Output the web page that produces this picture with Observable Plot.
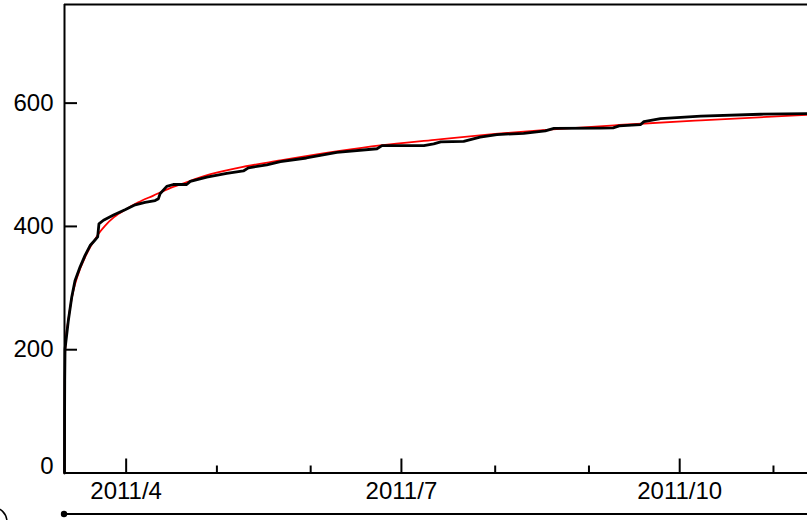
<!DOCTYPE html>
<html>
<head>
<meta charset="utf-8">
<script src="https://cdn.jsdelivr.net/npm/d3@7"></script>
<script src="https://cdn.jsdelivr.net/npm/@observablehq/plot@0.6"></script>
<style>
  html, body { margin: 0; padding: 0; background: #fff; overflow: hidden; }
  #wrap { position: relative; width: 807px; height: 520px; }
  #wrap > svg.deco { position: absolute; left: 0; top: 0; pointer-events: none; }
</style>
</head>
<body>
<div id="wrap"></div>
<script>
// Cumulative number of events since 2011-03-11 14:46 (observed, black)
const obsDates = [
  "2011-03-11T14:46", "2011-03-11T15:20", "2011-03-11T16:30", "2011-03-11T19:00",
  "2011-03-12T21:00", "2011-03-14T00:00", "2011-03-15T02:00", "2011-03-16T18:00",
  "2011-03-18T10:00", "2011-03-20T02:00", "2011-03-21T17:00", "2011-03-22T14:00",
  "2011-03-23T00:00", "2011-03-24T12:00", "2011-03-28T00:00", "2011-03-31T15:00",
  "2011-04-04T00:00", "2011-04-07T06:00", "2011-04-10T14:00", "2011-04-11T16:00",
  "2011-04-12T05:00", "2011-04-14T10:00", "2011-04-16T14:00", "2011-04-21T00:00",
  "2011-04-22T05:00", "2011-04-27T16:00", "2011-05-04T06:00", "2011-05-09T18:00",
  "2011-05-11T10:00", "2011-05-17T12:00", "2011-05-22T00:00", "2011-05-30T14:00",
  "2011-06-09T16:00", "2011-06-22T22:00", "2011-06-24T14:00", "2011-07-08T10:00",
  "2011-07-11T16:00", "2011-07-14T00:00", "2011-07-21T14:00", "2011-07-27T00:00",
  "2011-08-01T14:00", "2011-08-10T10:00", "2011-08-17T14:00", "2011-08-20T10:00",
  "2011-09-04T18:00", "2011-09-09T00:00", "2011-09-11T00:00", "2011-09-18T00:00",
  "2011-09-19T04:00", "2011-09-24T16:00", "2011-10-08T00:00", "2011-10-27T18:00",
  "2011-11-12T06:00"
];
const obsCounts = [
  0, 90, 150, 201,
  247, 285, 312, 334,
  353, 369, 378, 383,
  404, 410, 419, 427,
  435, 439, 442, 445,
  453, 465, 468, 468,
  473, 480, 486, 490,
  495, 500, 505, 511,
  520, 526, 531, 531,
  534, 537, 538, 545,
  549, 551, 555, 559,
  559.5, 560, 563, 565,
  570, 575, 579, 582,
  583
];

// Fitted decay curve (red)
const fitDates = [
  "2011-03-11T14:46", "2011-03-11T15:30", "2011-03-11T17:00", "2011-03-11T19:00",
  "2011-03-12T00:00", "2011-03-12T21:00", "2011-03-14T00:00", "2011-03-15T02:00",
  "2011-03-16T18:00", "2011-03-18T10:00", "2011-03-20T02:00", "2011-03-21T17:00",
  "2011-03-23T00:00", "2011-03-25T00:00", "2011-03-28T00:00", "2011-04-01T00:00",
  "2011-04-05T00:00", "2011-04-10T00:00", "2011-04-15T00:00", "2011-04-20T00:00",
  "2011-04-27T00:00", "2011-05-08T00:00", "2011-05-22T00:00", "2011-06-10T00:00",
  "2011-06-24T00:00", "2011-07-12T00:00", "2011-08-01T00:00", "2011-08-20T00:00",
  "2011-09-11T00:00", "2011-10-08T00:00", "2011-11-12T06:00"
];
const fitCounts = [
  0, 95, 150, 190,
  212, 248, 283, 306,
  331, 350, 366, 379,
  389, 401, 415, 428,
  439, 450, 461, 470,
  482, 495, 507, 522,
  531.5, 540.5, 550, 557.5,
  564.5, 572, 581
];

// Axis ticks
const majorTickDates = ["2011-04-01T00:00", "2011-07-01T00:00", "2011-10-01T00:00"];
const majorTickLabels = ["2011/4", "2011/7", "2011/10"];
const minorTickDates = ["2011-05-01T00:00", "2011-06-01T00:00", "2011-08-01T00:00", "2011-09-01T00:00", "2011-11-01T00:00"];
const yTicks = [200, 400, 600];
const yZeroTick = [0];

const parse = s => new Date(s + ":00Z");
const observed = obsDates.map((d, i) => ({date: parse(d), count: obsCounts[i]}));
const fitted = fitDates.map((d, i) => ({date: parse(d), count: fitCounts[i]}));
const majors = majorTickDates.map(parse);
const minors = minorTickDates.map(parse);
const labelOf = new Map(majors.map((d, i) => [+d, majorTickLabels[i]]));

const xStart = parse(obsDates[0]);
const xEnd = parse(obsDates[obsDates.length - 1]);
const yTop = 760;

const chart = Plot.plot({
  width: 807,
  height: 520,
  marginLeft: 64,
  marginRight: 0,
  marginTop: 4,
  marginBottom: 47.5,
  style: {
    fontFamily: "'Liberation Sans', Arial, sans-serif",
    fontSize: "24px",
    color: "#000",
    background: "#fff",
    overflow: "visible"
  },
  x: {type: "utc", domain: [xStart, xEnd], label: null},
  y: {domain: [0, yTop], label: null},
  marks: [
    Plot.line(fitted, {x: "date", y: "count", stroke: "#ff0000", strokeWidth: 1.8, curve: "monotone-x"}),
    Plot.line(observed, {x: "date", y: "count", stroke: "#000", strokeWidth: 2.8, strokeLinejoin: "round", strokeLinecap: "round"}),
    // frame: top, bottom and left edges
    Plot.ruleY([yTop], {stroke: "#000", strokeWidth: 2}),
    Plot.ruleY([0], {stroke: "#000", strokeWidth: 2}),
    Plot.ruleX([xStart], {stroke: "#000", strokeWidth: 2}),
    // inward ticks
    Plot.axisX(majors, {tickSize: -14, strokeWidth: 2, tickFormat: () => ""}),
    Plot.axisX(minors, {tickSize: -7, strokeWidth: 2, tickFormat: () => ""}),
    Plot.axisY(yTicks, {tickSize: -13, strokeWidth: 2, tickFormat: () => ""}),
    // tick labels
    Plot.axisX(majors, {tickSize: 0, tickPadding: 9, fontSize: 24, tickFormat: d => labelOf.get(+d)}),
    Plot.axisY(yTicks, {tickSize: 0, tickPadding: 11, fontSize: 24}),
    Plot.axisY(yZeroTick, {tickSize: 0, tickPadding: 11, fontSize: 24, dy: -7})
  ]
});

const wrap = document.getElementById("wrap");
wrap.appendChild(chart);

// lower strip: baseline with an end dot, and the edge of a circled marker
const ns = "http://www.w3.org/2000/svg";
const deco = document.createElementNS(ns, "svg");
deco.setAttribute("class", "deco");
deco.setAttribute("width", 807);
deco.setAttribute("height", 520);
deco.innerHTML =
  '<line x1="64" y1="514" x2="807" y2="514" stroke="#000" stroke-width="2"/>' +
  '<circle cx="64" cy="514" r="3.2" fill="#000"/>' +
  '<circle cx="-8" cy="522" r="15" fill="none" stroke="#000" stroke-width="1.5"/>';
wrap.appendChild(deco);
</script>
</body>
</html>
